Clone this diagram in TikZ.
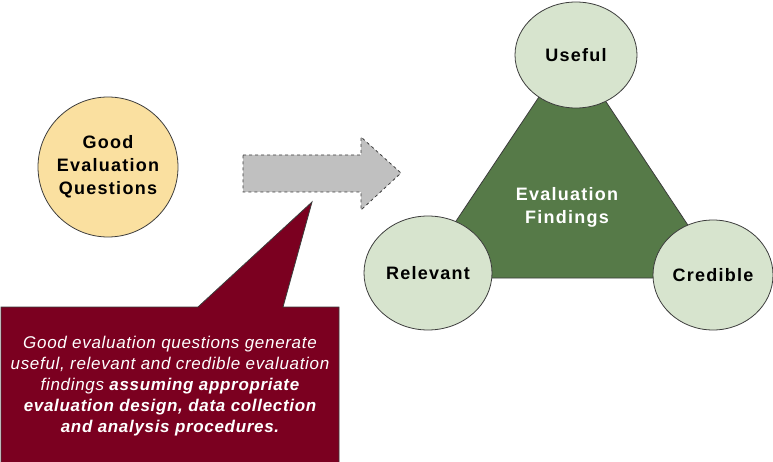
\documentclass[tikz,border=0pt]{standalone}
\usepackage{fontspec}
\setmainfont{Liberation Sans}
\newfontfamily\lblfont[LetterSpace=7]{Liberation Sans}
\newfontfamily\notefont[LetterSpace=4]{Liberation Sans}
\usetikzlibrary{shapes.geometric}
\definecolor{qfill}{RGB}{250,224,160}
\definecolor{gfill}{RGB}{215,228,206}
\definecolor{tfill}{RGB}{86,122,72}
\definecolor{cfill}{RGB}{123,0,32}
\definecolor{afill}{RGB}{192,192,192}
\definecolor{edge}{RGB}{60,60,60}
\tikzset{
  bubble/.style={ellipse,draw=edge,line width=0.8pt,fill=gfill,inner sep=0pt},
  lbl/.style={font=\lblfont\fontsize{18}{23}\selectfont\bfseries,align=center},
}
\begin{document}
\begin{tikzpicture}[x=1pt,y=-1pt]
\useasboundingbox (0,0) rectangle (773,462);
% triangle
\draw[draw=edge,line width=0.8pt,fill=tfill] (571,49) -- (418,278) -- (723,278) -- cycle;
% circles
\node[bubble,minimum width=122pt,minimum height=106pt] (useful) at (576,55) {};
\node[bubble,minimum width=128pt,minimum height=114pt] (relevant) at (428,273) {};
\node[bubble,minimum width=120pt,minimum height=110pt] (credible) at (713,275) {};
\node[lbl] at (useful) {Useful};
\node[lbl] at (relevant) {Relevant};
\node[lbl] at (credible) {Credible};
\node[lbl,text=white] (findings) at (567,207) {Evaluation\\Findings};
% question circle
\node[circle,draw=edge,line width=0.8pt,fill=qfill,minimum size=140pt,inner sep=0pt] (q) at (108,167) {};
\node[lbl] at (q) {Good\\Evaluation\\Questions};
% arrow
\draw[draw=edge,dashed,line width=0.8pt,fill=afill]
  (243,155) -- (361,155) -- (361,137) -- (401,173) -- (361,210) -- (361,192) -- (243,192) -- cycle;
% callout
\draw[draw=edge,line width=0.8pt,fill=cfill]
  (1,307) -- (198,307) -- (312,202) -- (283,307) -- (339,307) -- (339,470) -- (1,470) -- cycle;
\node[text=white,align=center,font=\notefont\fontsize{17}{21}\selectfont] (note) at (170,386)
  {\itshape Good evaluation questions generate\\
   \itshape useful, relevant and credible evaluation\\
   \itshape findings \bfseries assuming appropriate\\
   \bfseries\itshape evaluation design, data collection\\
   \bfseries\itshape and analysis procedures.};
\end{tikzpicture}
\end{document}
